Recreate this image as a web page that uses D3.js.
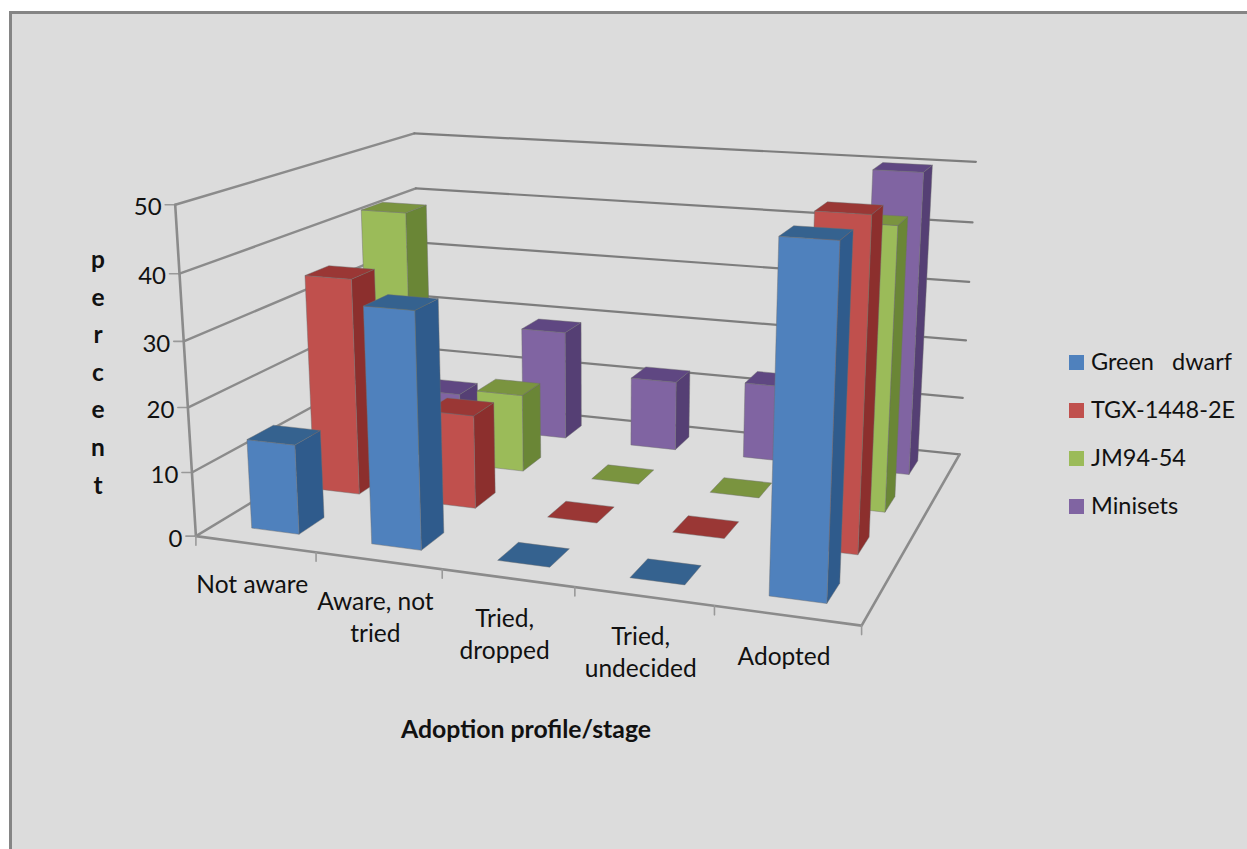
<!DOCTYPE html>
<html>
<head>
<meta charset="utf-8">
<script src="https://cdn.jsdelivr.net/npm/d3@7/dist/d3.min.js"></script>
<style>
  html, body { margin: 0; padding: 0; background: #fff; }
  svg { display: block; }
  text { font-family: Lato, "Open Sans", sans-serif; fill: #111; }
</style>
</head>
<body>
<svg id="chart" width="1247" height="849"></svg>
<script>
// Adoption percentages per variety and stage
const categories = ["Not aware", "Aware, not tried", "Tried, dropped", "Tried, undecided", "Adopted"];
const categoryLines = [["Not aware"], ["Aware, not", "tried"], ["Tried,", "dropped"], ["Tried,", "undecided"], ["Adopted"]];
const seriesNames = ["Green dwarf", "TGX-1448-2E", "JM94-54", "Minisets"];
const greenDwarf = [14, 36, 0, 0, 50];
const tgx = [35, 15, 0, 0, 50];
const jm94 = [42, 13, 0, 0, 45];
const minisets = [6, 19, 12, 13, 50];
const yTicks = [0, 10, 20, 30, 40, 50];

const seriesValues = [greenDwarf, tgx, jm94, minisets];
const faceColors = [
  { front: "#4f81bd", side: "#2f5b8c", top: "#35628f" },
  { front: "#c0504d", side: "#8c2f2d", top: "#9a3735" },
  { front: "#9bbb59", side: "#6a8636", top: "#7a943f" },
  { front: "#8064a2", side: "#553f74", top: "#5f4782" }
];

const svg = d3.select("#chart");
svg.append("rect").attr("x", 10).attr("y", 13).attr("width", 1237).attr("height", 836)
  .attr("fill", "#dcdcdc");
svg.append("path").attr("d", "M10.5,849V12.5H1247").attr("fill", "none")
  .attr("stroke", "#858585").attr("stroke-width", 3);

// Scales into the unit cube of the plot box: across, into depth, upward
const xBand = d3.scaleBand().domain(categories).range([0, 1]).paddingInner(0.6).paddingOuter(0.3);
const zBand = d3.scaleBand().domain(seriesNames).range([0, 1]).paddingInner(0.6).paddingOuter(0.3);
const yScale = d3.scaleLinear().domain([0, 50]).range([0, 1]);

// Anchor points of the plot box on the page, used to fit the camera
const anchors = [
  [0, 0, 0, 194.5, 536], [1, 0, 0, 862, 624], [1, 1, 0, 959, 455], [0, 1, 0, 426, 400],
  [0, 0, 1, 177, 206], [0, 1, 1, 412, 133], [1, 1, 1, 976, 162],
  [0, 0, .2, 191, 472], [0, 0, .4, 188, 407], [0, 0, .6, 185, 341], [0, 0, .8, 180, 273],
  [1, 1, .8, 972, 222], [1, 1, .6, 969, 282], [1, 1, .4, 966, 340], [1, 1, .2, 963, 398],
  [0, 1, .8, 414, 188],
  [.2, 0, 0, 315, 553], [.4, 0, 0, 441, 570], [.6, 0, 0, 574, 588], [.8, 0, 0, 713, 606],
  [.86, .075, 1, 780, 237], [.86, .075, 0, 770, 595], [.86, .325, 1, 815, 212],
  [.94, .325, 1, 873, 214], [.86, .825, 1, 873, 170], [.94, .825, 1, 923, 172]
];

// Least-squares fit of a 3x4 projective camera with its last entry fixed at 1
function fitCamera(points) {
  const n = 11;
  const ata = d3.range(n).map(() => new Array(n + 1).fill(0));
  const accumulate = (row, rhs) => {
    for (let i = 0; i < n; i++) {
      for (let j = 0; j < n; j++) ata[i][j] += row[i] * row[j];
      ata[i][n] += row[i] * rhs;
    }
  };
  points.forEach(([a, b, c, px, py]) => {
    accumulate([a, b, c, 1, 0, 0, 0, 0, -px * a, -px * b, -px * c], px);
    accumulate([0, 0, 0, 0, a, b, c, 1, -py * a, -py * b, -py * c], py);
  });
  for (let k = 0; k < n; k++) {
    let pivot = k;
    for (let r = k + 1; r < n; r++) if (Math.abs(ata[r][k]) > Math.abs(ata[pivot][k])) pivot = r;
    [ata[k], ata[pivot]] = [ata[pivot], ata[k]];
    for (let r = 0; r < n; r++) {
      if (r === k) continue;
      const f = ata[r][k] / ata[k][k];
      for (let c = k; c <= n; c++) ata[r][c] -= f * ata[k][c];
    }
  }
  return ata.map((row, i) => row[n] / row[i]);
}
const cam = fitCamera(anchors);
const project = (a, b, c) => {
  const w = cam[8] * a + cam[9] * b + cam[10] * c + 1;
  return [
    (cam[0] * a + cam[1] * b + cam[2] * c + cam[3]) / w,
    (cam[4] * a + cam[5] * b + cam[6] * c + cam[7]) / w
  ];
};
const line = d3.line();
const polyline = pts => line(pts.map(p => project(...p)));
const polygon = pts => polyline(pts) + "Z";

// Walls and floor
const frame = svg.append("g").attr("fill", "none").attr("stroke-linecap", "round");
const frameColor = "#8b8b8b";
yTicks.forEach(t => {
  const c = yScale(t);
  frame.append("path").attr("d", polyline([[0, 0, c], [0, 1, c]]))
    .attr("stroke", frameColor).attr("stroke-width", 2.4);
  frame.append("path").attr("d", polyline([[0, 1, c], [1, 1, c]]))
    .attr("stroke", "#7d7d7d").attr("stroke-width", 2.2);
  const [tx, ty] = project(0, 0, c);
  frame.append("line").attr("x1", tx - 10).attr("y1", ty).attr("x2", tx).attr("y2", ty)
    .attr("stroke", "#999").attr("stroke-width", 1.6);
  svg.append("text").attr("x", tx - 13.5).attr("y", ty + 2).attr("dy", "0.36em")
    .attr("text-anchor", "end").style("font-size", "24px").text(t);
});
frame.append("path").attr("d", polyline([[0, 0, 1], [0, 0, 0], [1, 0, 0], [1, 1, 0]]))
  .attr("stroke", frameColor).attr("stroke-width", 2.6).attr("stroke-linejoin", "round");

// Category ticks below the front edge
d3.range(categories.length + 1).forEach(i => {
  const [tx, ty] = project(i / categories.length, 0, 0);
  frame.append("line").attr("x1", tx).attr("y1", ty).attr("x2", tx).attr("y2", ty + 9)
    .attr("stroke", "#999").attr("stroke-width", 1.6);
});

// Columns, painted from the back row forward and left to right in each row
const marks = svg.append("g").attr("stroke", "#6f6f6f").attr("stroke-opacity", 0.55)
  .attr("stroke-width", 0.8).attr("stroke-linejoin", "round");
d3.range(seriesNames.length - 1, -1, -1).forEach(s => {
  const z0 = zBand(seriesNames[s]);
  const z1 = z0 + zBand.bandwidth();
  categories.forEach((cat, i) => {
    const x0 = xBand(cat);
    const x1 = x0 + xBand.bandwidth();
    const h = yScale(seriesValues[s][i]);
    const col = faceColors[s];
    if (h > 0) {
      marks.append("path").attr("fill", col.side)
        .attr("d", polygon([[x1, z0, 0], [x1, z1, 0], [x1, z1, h], [x1, z0, h]]));
      marks.append("path").attr("fill", col.front)
        .attr("d", polygon([[x0, z0, 0], [x1, z0, 0], [x1, z0, h], [x0, z0, h]]));
    }
    marks.append("path").attr("fill", col.top)
      .attr("d", polygon([[x0, z0, h], [x1, z0, h], [x1, z1, h], [x0, z1, h]]));
  });
});

// Category labels under the front edge
categories.forEach((cat, i) => {
  const [cx, cy] = project(xBand(cat) + xBand.bandwidth() / 2, 0, 0);
  const label = svg.append("text").attr("text-anchor", "middle").style("font-size", "24.5px");
  categoryLines[i].forEach((txt, k) => {
    label.append("tspan").attr("x", cx - 3).attr("y", cy + 49 + k * 32).text(txt);
  });
});

// Axis titles
svg.append("text").attr("x", 526).attr("y", 738).attr("text-anchor", "middle")
  .style("font-size", "24.8px").style("font-weight", 700).text("Adoption profile/stage");
Array.from("percent").forEach((ch, i) => {
  svg.append("text").attr("x", 98).attr("y", 268 + i * 37.6).attr("text-anchor", "middle")
    .style("font-size", "24.5px").style("font-weight", 700).text(ch);
});

// Legend
const legendLabels = ["Green\u00a0\u00a0\u00a0dwarf", "TGX-1448-2E", "JM94-54", "Minisets"];
const legendY = d3.scalePoint().domain(seriesNames).range([355, 499]);
seriesNames.forEach((name, i) => {
  const y = legendY(name);
  svg.append("rect").attr("x", 1069).attr("y", y).attr("width", 15).attr("height", 15)
    .attr("fill", faceColors[i].front);
  svg.append("text").attr("x", 1091).attr("y", y + 15).style("font-size", "23.5px")
    .text(legendLabels[i]);
});
</script>
</body>
</html>
